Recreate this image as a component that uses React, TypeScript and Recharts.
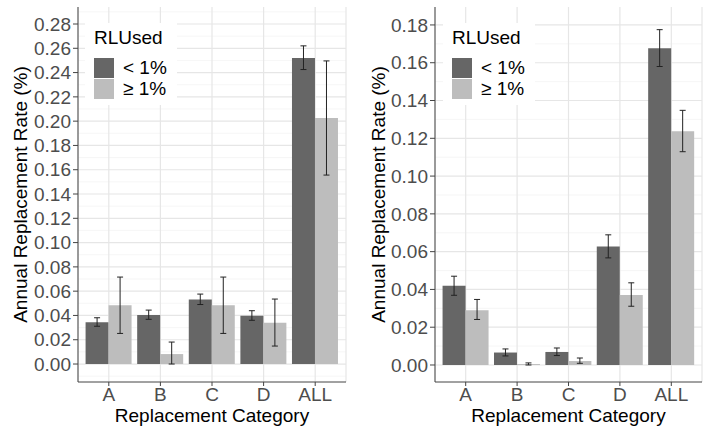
import { BarChart, Bar, XAxis, YAxis, CartesianGrid, ErrorBar, Legend } from 'recharts'

const categories = ['A', 'B', 'C', 'D', 'ALL']
const seriesNames = ['< 1%', '≥ 1%']

// left panel: value, lower and upper bound of the interval
const leftLow = [0.0343, 0.0403, 0.0532, 0.0398, 0.252]
const leftLowLo = [0.0311, 0.0368, 0.049, 0.036, 0.2425]
const leftLowHi = [0.0381, 0.0444, 0.0576, 0.0439, 0.262]
const leftHigh = [0.0483, 0.0082, 0.0483, 0.034, 0.2025]
const leftHighLo = [0.0252, 0.0, 0.0252, 0.0148, 0.1556]
const leftHighHi = [0.0716, 0.0181, 0.0716, 0.0535, 0.2496]

// right panel
const rightLow = [0.0419, 0.0066, 0.0069, 0.0627, 0.1677]
const rightLowLo = [0.0369, 0.0048, 0.005, 0.0567, 0.158]
const rightLowHi = [0.047, 0.0085, 0.009, 0.0689, 0.1775]
const rightHigh = [0.029, 0.0005, 0.0021, 0.0371, 0.1237]
const rightHighLo = [0.0241, 0.0, 0.0009, 0.0311, 0.1129]
const rightHighHi = [0.0347, 0.0011, 0.0037, 0.0435, 0.1348]

const leftTicks = [0, 0.02, 0.04, 0.06, 0.08, 0.1, 0.12, 0.14, 0.16, 0.18, 0.2, 0.22, 0.24, 0.26, 0.28]
const leftMinor = [-0.01, 0.01, 0.03, 0.05, 0.07, 0.09, 0.11, 0.13, 0.15, 0.17, 0.19, 0.21, 0.23, 0.25, 0.27, 0.29]
const rightTicks = [0, 0.02, 0.04, 0.06, 0.08, 0.1, 0.12, 0.14, 0.16, 0.18]
const rightMinor = [0.01, 0.03, 0.05, 0.07, 0.09, 0.11, 0.13, 0.15, 0.17]

const DARK = '#666666'
const LIGHT = '#bdbdbd'
const FONT = '"Liberation Sans", Arial, Helvetica, sans-serif'

function buildRows(low: number[], lowLo: number[], lowHi: number[], high: number[], highLo: number[], highHi: number[]) {
  return categories.map((cat, i) => ({
    cat,
    low: low[i],
    lowErr: [low[i] - lowLo[i], lowHi[i] - low[i]],
    high: high[i],
    highErr: [high[i] - highLo[i], highHi[i] - high[i]],
  }))
}

function KeyBox({ payload }: any) {
  return (
    <div style={{ background: '#fff', padding: '4px 10px 6px 9px', color: '#000', fontFamily: FONT }}>
      <div style={{ fontSize: 19, lineHeight: '22px', marginBottom: 8 }}>RLUsed</div>
      {(payload || []).map((p: any) => (
        <div key={p.value} style={{ display: 'flex', alignItems: 'center', height: 21 }}>
          <span style={{ width: 20, height: 20, background: p.color, marginRight: 9, display: 'inline-block' }} />
          <span style={{ fontSize: 19 }}>{p.value}</span>
        </div>
      ))}
    </div>
  )
}

function YTitle({ viewBox, shift }: any) {
  const x = viewBox.x + shift
  const y = viewBox.y + viewBox.height / 2
  return (
    <text x={x} y={y} transform={`rotate(-90 ${x} ${y})`} textAnchor="middle" fontSize={19} fill="#000">
      Annual Replacement Rate (%)
    </text>
  )
}

interface PanelProps {
  data: ReturnType<typeof buildRows>
  ticks: number[]
  minor: number[]
  domain: [number, number]
  width: number
  yAxisWidth: number
  marginRight: number
  titleShift: number
  legendLeft: number
}

function Panel({ data, ticks, minor, domain, width, yAxisWidth, marginRight, titleShift, legendLeft }: PanelProps) {
  const tickStyle = { fontSize: 19, fill: '#4d4d4d' }
  return (
    <BarChart
      width={width}
      height={429}
      data={data}
      margin={{ top: 7, right: marginRight, bottom: 0, left: 0 }}
      barCategoryGap="5%"
      barGap={0}
    >
      <CartesianGrid horizontalValues={minor} vertical={false} stroke="#f2f2f2" strokeWidth={0.7} />
      <CartesianGrid horizontalValues={ticks} stroke="#e6e6e6" strokeWidth={1.2} />
      <XAxis
        dataKey="cat"
        height={47}
        padding={{ left: 5, right: 5 }}
        tickSize={4}
        tickMargin={2}
        tick={tickStyle}
        stroke="#444"
        label={{ value: 'Replacement Category', position: 'insideBottom', offset: 7, fontSize: 19, fill: '#000' }}
      />
      <XAxis xAxisId="top" orientation="top" dataKey="cat" height={0} tick={false} tickLine={false} stroke="#444" />
      <YAxis
        width={yAxisWidth}
        domain={domain}
        allowDataOverflow
        ticks={ticks}
        interval={0}
        tickSize={5}
        tickMargin={2}
        tick={tickStyle}
        tickFormatter={(v: number) => v.toFixed(2)}
        stroke="#444"
        label={{ content: (p: any) => <YTitle {...p} shift={titleShift} /> }}
      />
      <YAxis yAxisId="right" orientation="right" width={0} domain={domain} tick={false} tickLine={false} stroke="#444" />
      <Legend
        layout="vertical"
        align="center"
        verticalAlign="middle"
        content={<KeyBox />}
        wrapperStyle={{ left: legendLeft, top: 23, width: 'auto' }}
      />
      <Bar dataKey="low" name={seriesNames[0]} fill={DARK} isAnimationActive={false}>
        <ErrorBar dataKey="lowErr" width={3} stroke="#222" strokeWidth={1} direction="y" />
      </Bar>
      <Bar dataKey="high" name={seriesNames[1]} fill={LIGHT} isAnimationActive={false}>
        <ErrorBar dataKey="highErr" width={3} stroke="#222" strokeWidth={1} direction="y" />
      </Bar>
    </BarChart>
  )
}

export default function App() {
  const leftData = buildRows(leftLow, leftLowLo, leftLowHi, leftHigh, leftHighLo, leftHighHi)
  const rightData = buildRows(rightLow, rightLowLo, rightLowHi, rightHigh, rightHighLo, rightHighHi)
  return (
    <div style={{ position: 'absolute', left: 0, top: 0, width: 707, height: 429, background: '#fff', fontFamily: FONT }}>
      <div style={{ position: 'absolute', left: 0, top: 0 }}>
        <Panel
          data={leftData}
          ticks={leftTicks}
          minor={leftMinor}
          domain={[-0.0148, 0.294]}
          width={355}
          yAxisWidth={78}
          marginRight={9}
          titleShift={27}
          legendLeft={85}
        />
      </div>
      <div style={{ position: 'absolute', left: 355, top: 0 }}>
        <Panel
          data={rightData}
          ticks={rightTicks}
          minor={rightMinor}
          domain={[-0.009, 0.1895]}
          width={352}
          yAxisWidth={80}
          marginRight={5}
          titleShift={30}
          legendLeft={88}
        />
      </div>
    </div>
  )
}
